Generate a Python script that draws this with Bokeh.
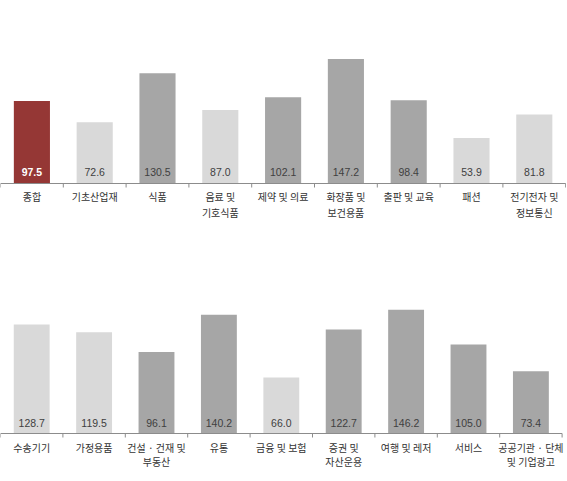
from bokeh.plotting import figure
from bokeh.layouts import column
from bokeh.models import ColumnDataSource, Range1d
from bokeh.core.properties import value
from bokeh.embed import file_html
from bokeh.resources import INLINE

# ---- data ----
top_cats = ["종합", "기초산업재", "식품", "음료 및\n기호식품", "제약 및 의료",
            "화장품 및\n보건용품", "출판 및 교육", "패션", "전기전자 및\n정보통신"]
top_vals = [97.5, 72.6, 130.5, 87.0, 102.1, 147.2, 98.4, 53.9, 81.8]
top_kind = ["total", "light", "dark", "light", "dark", "dark", "dark", "light", "light"]

bot_cats = ["수송기기", "가정용품", "건설 · 건재 및\n부동산", "유통", "금융 및 보험",
            "증권 및\n자산운용", "여행 및 레저", "서비스", "공공기관 · 단체\n및 기업광고"]
bot_vals = [128.7, 119.5, 96.1, 140.2, 66.0, 122.7, 146.2, 105.0, 73.4]
bot_kind = ["light", "light", "dark", "dark", "light", "dark", "dark", "dark", "dark"]

FILL = {"total": "#953735", "light": "#d9d9d9", "dark": "#a6a6a6"}
LBL = {"total": "#ffffff", "light": "#404040", "dark": "#404040"}
WEIGHT = {"total": "bold", "light": "normal", "dark": "normal"}

KFONT = value("Noto Sans CJK KR")
NFONT = value("Liberation Sans")


def make_chart(cats, vals, kinds, width, height, unit_px, base_px, scale,
               l1_off, l2_off, val_off):
    n = len(cats)
    lines = [c.split("\n") for c in cats]
    src = ColumnDataSource(dict(
        x=[i + 0.5 for i in range(n)],
        top=vals,
        l1=[l[0] for l in lines],
        l2=[l[1] if len(l) > 1 else "" for l in lines],
        val=[f"{v:.1f}" for v in vals],
        fill=[FILL[k] for k in kinds],
        lcol=[LBL[k] for k in kinds],
        weight=[WEIGHT[k] for k in kinds],
    ))
    xr = Range1d(0, width / unit_px)
    yr = Range1d(-(height - base_px) / scale, base_px / scale)
    p = figure(width=width, height=height, output_backend="svg", toolbar_location=None,
               x_range=xr, y_range=yr, min_border=0,
               x_axis_type=None, y_axis_type=None)
    p.outline_line_color = None
    p.grid.visible = False
    p.background_fill_color = "white"
    p.vbar(x="x", top="top", bottom=0, width=0.575, fill_color="fill",
           line_color=None, source=src)
    # baseline and ticks
    p.segment(x0=[0], x1=[n], y0=[0], y1=[0], line_color="#8c8c8c", line_width=1)
    b = list(range(n + 1))
    p.segment(x0=b, x1=b, y0=[0] * len(b), y1=[-4.0 / scale] * len(b),
              line_color="#8c8c8c", line_width=1)
    # value labels
    p.text(x="x", y=0, text="val", source=src, text_color="lcol",
           text_font=NFONT, text_font_size="10.5px", text_font_style="weight",
           text_align="center", text_baseline="middle", y_offset=val_off)
    # category labels (two lines)
    for col, off in (("l1", l1_off), ("l2", l2_off)):
        p.text(x="x", y=0, text=col, source=src, text_color="#333333",
               text_font=KFONT, text_font_size="10px", text_align="center",
               text_baseline="middle", y_offset=off)
    return p


p1 = make_chart(top_cats, top_vals, top_kind, 566, 250, 62.8, 183, 0.845,
                13, 29, -12)
p2 = make_chart(bot_cats, bot_vals, bot_kind, 566, 228, 62.4, 183, 0.847,
                13.5, 27.5, -10.5)

layout = column(p1, p2, spacing=0)
open("out.html", "w").write(file_html(layout, INLINE))
